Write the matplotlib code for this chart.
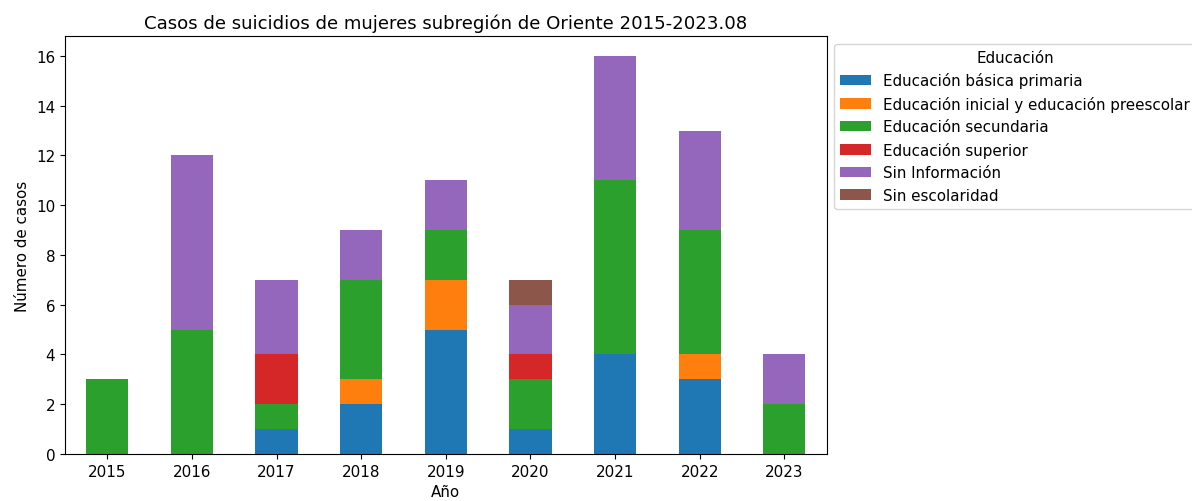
import pandas as pd
import matplotlib
matplotlib.use("Agg")
import matplotlib.pyplot as plt

plt.rcParams["font.size"] = 10.9

# Casos por año y nivel educativo
years = [2015, 2016, 2017, 2018, 2019, 2020, 2021, 2022, 2023]
basica_primaria = [0, 0, 1, 2, 5, 1, 4, 3, 0]
inicial_preescolar = [0, 0, 0, 1, 2, 0, 0, 1, 0]
secundaria = [3, 5, 1, 4, 2, 2, 7, 5, 2]
superior = [0, 0, 2, 0, 0, 1, 0, 0, 0]
sin_informacion = [0, 7, 3, 2, 2, 2, 5, 4, 2]
sin_escolaridad = [0, 0, 0, 0, 0, 1, 0, 0, 0]

df = pd.DataFrame({
    "Educación básica primaria": basica_primaria,
    "Educación inicial y educación preescolar": inicial_preescolar,
    "Educación secundaria": secundaria,
    "Educación superior": superior,
    "Sin Información": sin_informacion,
    "Sin escolaridad": sin_escolaridad,
}, index=pd.Index(years, name="Año"))

fig = plt.figure(figsize=(11.92, 5.02), dpi=100)
ax = fig.add_axes([0.0545, 0.0936, 0.639, 0.8327])

df.plot(kind="bar", stacked=True, ax=ax)

ax.set_title("Casos de suicidios de mujeres subregión de Oriente 2015-2023.08")
ax.set_xlabel("Año")
ax.set_ylabel("Número de casos")
ax.set_xticklabels([str(y) for y in years], rotation=0)
ax.legend(title="Educación", bbox_to_anchor=(1.0, 1.0), loc="upper left")

plt.savefig("out.png", dpi=100)
